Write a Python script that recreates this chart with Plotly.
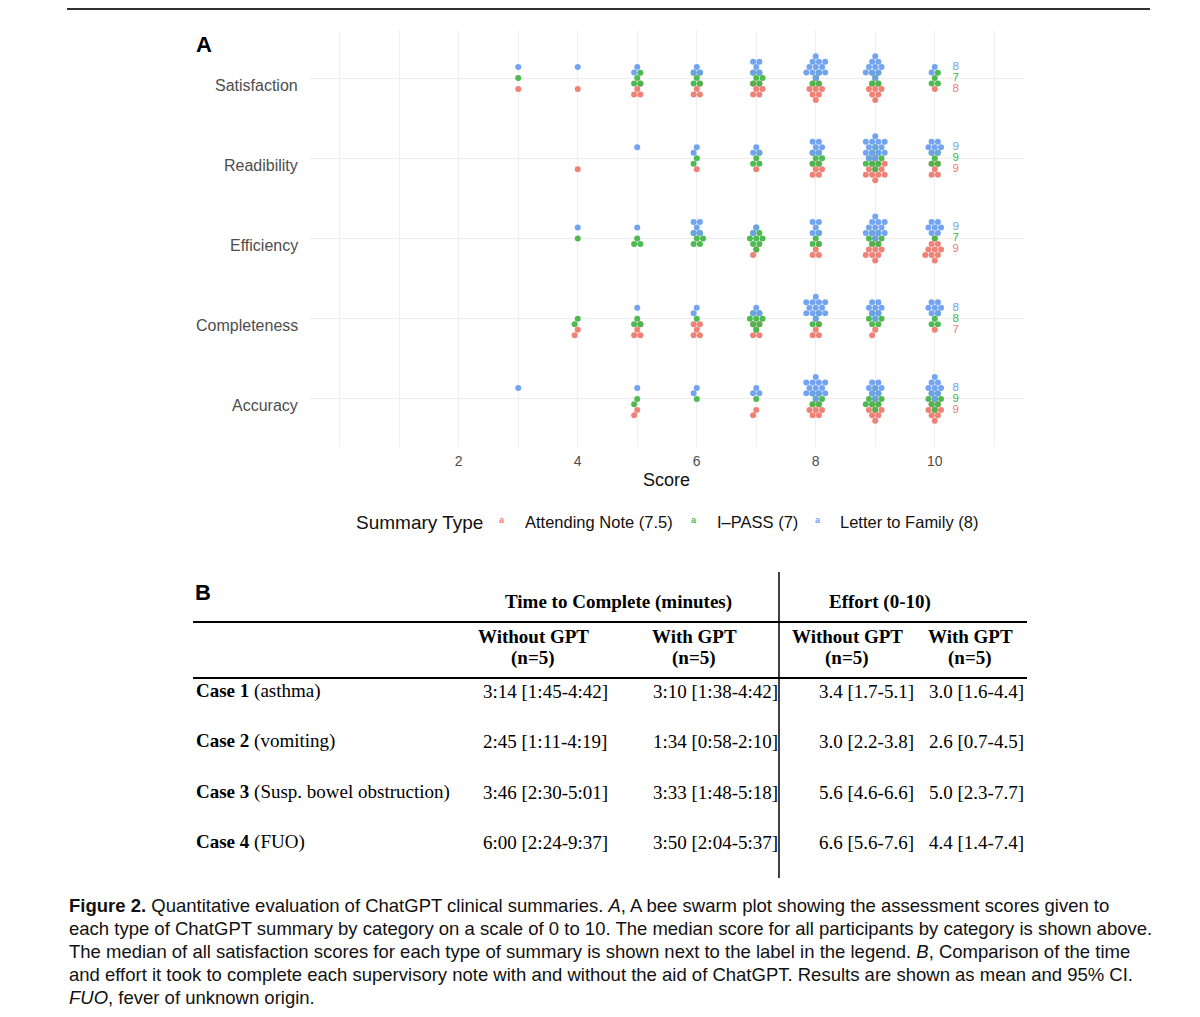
import math
import plotly.graph_objects as go

W, H = 1200, 1017
OFF = 8  # page body margin in the browser

# ---------------- data: panel A ----------------
categories = ["Satisfaction", "Readibility", "Efficiency", "Completeness", "Accuracy"]
groups = ["Attending Note", "I\u2013PASS", "Letter to Family"]
group_colors = ["#EE7A6F", "#45B649", "#6C9FF0"]
legend_medians = ["7.5", "7", "8"]
scores = [3, 4, 5, 6, 7, 8, 9, 10]
x_tick_labels = ["", "", "2", "", "4", "", "6", "", "8", "", "10", ""]

# number of ratings at each score (3..10), per category
counts_attending = {
    "Satisfaction": [1, 1, 4, 4, 6, 9, 8, 1],
    "Readibility": [0, 1, 0, 1, 1, 6, 12, 5],
    "Efficiency": [0, 0, 0, 0, 2, 4, 10, 10],
    "Completeness": [0, 2, 4, 5, 5, 4, 2, 1],
    "Accuracy": [0, 0, 2, 0, 2, 7, 9, 9],
}
counts_ipass = {
    "Satisfaction": [1, 0, 4, 5, 6, 4, 5, 4],
    "Readibility": [0, 0, 0, 2, 4, 6, 10, 5],
    "Efficiency": [0, 1, 3, 6, 9, 4, 7, 1],
    "Completeness": [0, 2, 3, 1, 8, 4, 7, 4],
    "Accuracy": [0, 0, 2, 1, 1, 6, 10, 8],
}
counts_letter = {
    "Satisfaction": [1, 1, 2, 3, 5, 12, 10, 2],
    "Readibility": [0, 0, 1, 2, 3, 6, 14, 7],
    "Efficiency": [0, 1, 1, 5, 2, 5, 12, 7],
    "Completeness": [0, 0, 1, 2, 3, 13, 8, 7],
    "Accuracy": [1, 0, 1, 2, 3, 13, 8, 9],
}
median_attending = [8, 9, 9, 7, 9]
median_ipass = [7, 9, 7, 8, 9]
median_letter = [8, 9, 9, 8, 8]

# ---------------- data: panel B ----------------
case_names = ["Case 1", "Case 2", "Case 3", "Case 4"]
case_desc = ["(asthma)", "(vomiting)", "(Susp. bowel obstruction)", "(FUO)"]
time_without = ["3:14 [1:45-4:42]", "2:45 [1:11-4:19]", "3:46 [2:30-5:01]", "6:00 [2:24-9:37]"]
time_with = ["3:10 [1:38-4:42]", "1:34 [0:58-2:10]", "3:33 [1:48-5:18]", "3:50 [2:04-5:37]"]
effort_without = ["3.4 [1.7-5.1]", "3.0 [2.2-3.8]", "5.6 [4.6-6.6]", "6.6 [5.6-7.6]"]
effort_with = ["3.0 [1.6-4.4]", "2.6 [0.7-4.5]", "5.0 [2.3-7.7]", "4.4 [1.4-7.4]"]

caption_lines = [
    "<b>Figure 2.</b> Quantitative evaluation of ChatGPT clinical summaries. <i>A</i>, A bee swarm plot showing the assessment scores given to",
    "each type of ChatGPT summary by category on a scale of 0 to 10. The median score for all participants by category is shown above.",
    "The median of all satisfaction scores for each type of summary is shown next to the label in the legend. <i>B</i>, Comparison of the time",
    "and effort it took to complete each supervisory note with and without the aid of ChatGPT. Results are shown as mean and 95% CI.",
    "<i>FUO</i>, fever of unknown origin.",
]

# ---------------- layout helpers (reference pixel coords) ----------------
FW, FH = W - OFF, H - OFF


def px_x(x):
    return (x - OFF) / FW


def px_y(y):
    return 1 - (y - OFF) / FH


PANEL_L, PANEL_R, PANEL_T, PANEL_B = 310, 1024, 30, 447
X_RANGE = [-0.5, 11.5]
Y_RANGE = [0.4, 5.6]
PX_PER_X = (PANEL_R - PANEL_L) / (X_RANGE[1] - X_RANGE[0])
PX_PER_Y = (PANEL_B - PANEL_T) / (Y_RANGE[1] - Y_RANGE[0])
GROUP_DY_PX = [-11, 0, 11]  # upward positive: red below, green centre, blue above


def swarm_offsets(n, spacing=6.3, stretch=1.05):
    """Compact hexagonal packing around the centre (pixel offsets)."""
    cands = []
    for j in range(-7, 8):
        for i in range(-7, 8):
            dx = i * spacing + (spacing / 2 if j % 2 else 0)
            dy = j * spacing * 0.87
            d = dx * dx + (dy / stretch) ** 2
            cands.append((round(d, 3), math.atan2(dy, dx), dx, dy))
    cands.sort()
    return [(c[2], c[3]) for c in cands[:n]]


counts_by_group = [counts_attending, counts_ipass, counts_letter]
medians_by_group = [median_attending, median_ipass, median_letter]

fig = go.Figure()

for gi, (gname, color) in enumerate(zip(groups, group_colors)):
    xs, ys = [], []
    for ci, cat in enumerate(categories):
        ybase = len(categories) - ci
        for s, n in zip(scores, counts_by_group[gi][cat]):
            for dx, dy in swarm_offsets(n):
                xs.append(s + dx / PX_PER_X)
                ys.append(ybase + (GROUP_DY_PX[gi] + dy) / PX_PER_Y)
    fig.add_trace(go.Scatter(
        x=xs, y=ys, mode="markers", name=gname,
        marker=dict(size=6, color=color, opacity=0.95, line=dict(width=0)),
        hoverinfo="skip", showlegend=False,
    ))

# median labels
for gi, color in enumerate(group_colors):
    fig.add_trace(go.Scatter(
        x=[10.3] * len(categories),
        y=[len(categories) - ci + GROUP_DY_PX[gi] / PX_PER_Y for ci in range(len(categories))],
        mode="text", text=[str(m) for m in medians_by_group[gi]],
        textfont=dict(family="Liberation Sans, Arial", size=11.5, color=color),
        textposition="middle right", hoverinfo="skip", showlegend=False,
    ))

fig.update_layout(
    width=FW, height=FH,
    margin=dict(l=0, r=0, t=0, b=0),
    paper_bgcolor="white", plot_bgcolor="white",
    showlegend=False,
    xaxis=dict(
        domain=[px_x(PANEL_L), px_x(PANEL_R)], range=X_RANGE,
        tickmode="array", tickvals=list(range(12)), ticktext=x_tick_labels,
        showgrid=True, gridcolor="#EEEEEE", gridwidth=1, zeroline=False, showline=False,
        ticks="", tickfont=dict(family="Liberation Sans, Arial", size=14, color="#4D4D4D"),
        ticklabelstandoff=4,
    ),
    yaxis=dict(
        domain=[px_y(PANEL_B), px_y(PANEL_T)], range=Y_RANGE,
        tickmode="array", tickvals=[5, 4, 3, 2, 1], ticktext=[""] * 5,
        showgrid=True, gridcolor="#EEEEEE", gridwidth=1, zeroline=False, showline=False,
        ticks="",
    ),
)

ann = []
shapes = []
SANS = "Liberation Sans, Arial"
SERIF = "Liberation Serif, Times New Roman"

# category labels (sit slightly below their grid lines, as in the reference)
for ci, cat in enumerate(categories):
    ann.append(dict(x=px_x(300), y=len(categories) - ci, xref="paper", yref="y", text=cat,
                    showarrow=False, xanchor="right", yanchor="middle", yshift=-7,
                    font=dict(family=SANS, size=16, color="#4D4D4D")))


def text(x, y, t, size, family=SANS, color="#111111", xanchor="left", yanchor="middle"):
    ann.append(dict(x=px_x(x), y=px_y(y), xref="paper", yref="paper", text=t,
                    showarrow=False, xanchor=xanchor, yanchor=yanchor,
                    font=dict(family=family, size=size, color=color)))


def hline(x0, x1, y, w=2, color="#111111"):
    shapes.append(dict(type="line", xref="paper", yref="paper", x0=px_x(x0), x1=px_x(x1),
                       y0=px_y(y), y1=px_y(y), line=dict(color=color, width=w)))


# top rule
hline(67, 1150, 9, w=2, color="#333333")

# panel labels
text(194, 45, "<b>A</b>", 22, color="#000000")
text(193, 592, "<b>B</b>", 22, color="#000000")

# x axis title
text(666, 480, "Score", 18, color="#111111", xanchor="center")

# legend
text(354, 522, "Summary Type", 19, color="#111111")
legend_key_x = [502, 694, 818]
legend_lab_x = [523, 715, 838]
for gi in range(3):
    text(legend_key_x[gi], 520, "<b>a</b>", 9, color=group_colors[gi], xanchor="center")
    text(legend_lab_x[gi], 522, f"{groups[gi]} ({legend_medians[gi]})", 16.5, color="#111111")

# ---------------- table ----------------
TS = 19
text(618, 602, "<b>Time to Complete (minutes)</b>", TS, family=SERIF, color="#000000", xanchor="center")
text(880, 602, "<b>Effort (0-10)</b>", TS, family=SERIF, color="#000000", xanchor="center")
hline(193, 1027, 622, w=2, color="#000000")
hline(193, 1027, 678, w=2, color="#000000")
shapes.append(dict(type="line", xref="paper", yref="paper", x0=px_x(779), x1=px_x(779),
                   y0=px_y(572), y1=px_y(878), line=dict(color="#000000", width=1.5)))

col_centers = [533, 694, 847, 970]
col_heads = ["Without GPT", "With GPT", "Without GPT", "With GPT"]
for cx, h in zip(col_centers, col_heads):
    text(cx, 636, f"<b>{h}</b>", TS, family=SERIF, color="#000000", xanchor="center")
    text(cx, 658, "<b>(n=5)</b>", TS, family=SERIF, color="#000000", xanchor="center")

row_y = [691, 741, 792, 842]
val_centers = [545, 715, 866, 976]
for ri in range(4):
    text(194, row_y[ri], f"<b>{case_names[ri]}</b> {case_desc[ri]}", TS, family=SERIF, color="#000000")
    for cx, col in zip(val_centers, [time_without, time_with, effort_without, effort_with]):
        text(cx, row_y[ri], col[ri], TS, family=SERIF, color="#000000", xanchor="center")

# caption
cap_y = [905, 928, 951, 974, 997]
for y, line in zip(cap_y, caption_lines):
    text(67, y, line, 18.5, family=SANS, color="#111111")

fig.update_layout(annotations=ann, shapes=shapes)
fig.write_html("out.html")
